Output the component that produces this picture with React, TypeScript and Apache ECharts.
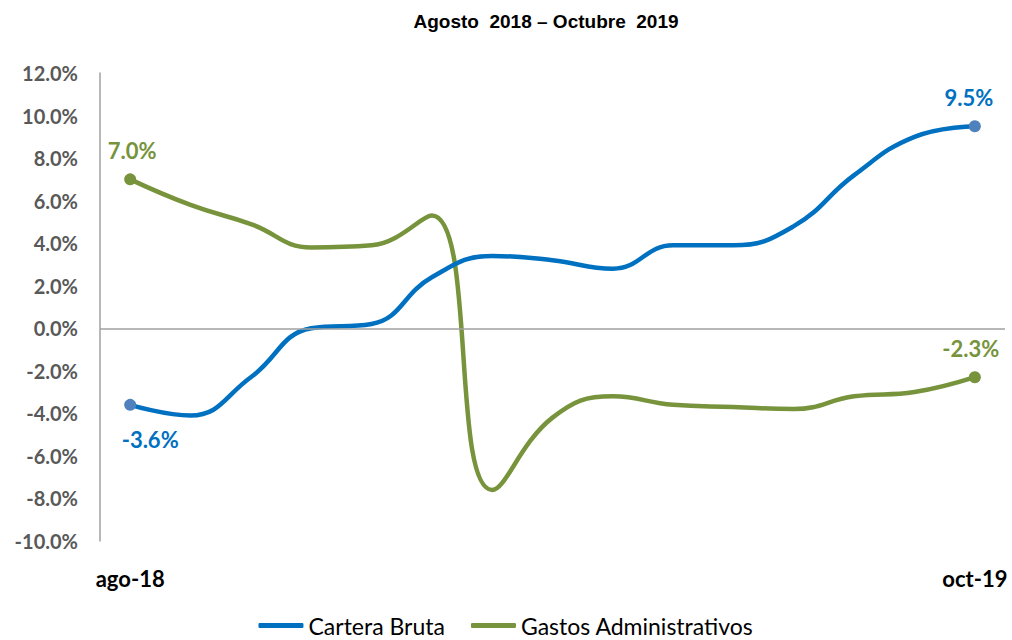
import React, { useEffect, useRef } from "react";
import * as echarts from "echarts";

const titleText = "Agosto  2018 – Octubre  2019";
const months = [
  "ago-18", "sep-18", "oct-18", "nov-18", "dic-18", "ene-19", "feb-19", "mar-19",
  "abr-19", "may-19", "jun-19", "jul-19", "ago-19", "sep-19", "oct-19",
];
const carteraBruta = [-3.6, -4.1, -2.3, 0.0, 0.2, 2.4, 3.4, 3.2, 2.8, 3.9, 3.9, 4.8, 7.2, 9.0, 9.5];
const gastosAdministrativos = [7.0, 5.8, 4.9, 3.8, 3.9, 5.3, -7.6, -4.2, -3.2, -3.6, -3.7, -3.8, -3.2, -3.0, -2.3];
const yTicks = { min: -10, max: 12, step: 2 };

const BLUE = "#0070C0";
const BLUE_MARK = "#4F81BD";
const GREEN = "#77933C";
const FONT = "Lato, 'Open Sans', sans-serif";

function buildData(values: number[], markColor: string, labelColor: string, firstPos: string, lastPos: string, firstOffset: number[], lastOffset: number[]) {
  const last = values.length - 1;
  return values.map((v, i) => {
    if (i === 0 || i === last) {
      return {
        value: v,
        symbol: "circle",
        symbolSize: 12,
        itemStyle: { color: markColor },
        label: {
          show: true,
          position: i === 0 ? firstPos : lastPos,
          offset: i === 0 ? firstOffset : lastOffset,
          distance: 12,
          formatter: (p: any) => p.value.toFixed(1) + "%",
          color: labelColor,
          fontFamily: FONT,
          fontWeight: "bold",
          fontSize: 22,
        },
      };
    }
    return { value: v, symbol: "none" };
  });
}

export default function App() {
  const ref = useRef<HTMLDivElement>(null);
  useEffect(() => {
    if (!ref.current) return;
    const chart = echarts.init(ref.current, null, { renderer: "svg" });
    chart.setOption({
      animation: false,
      backgroundColor: "#ffffff",
      title: {
        text: titleText,
        left: 541,
        textAlign: "center",
        top: 7,
        textStyle: {
          fontFamily: "'Liberation Sans', Arial, sans-serif",
          fontWeight: "bold",
          fontSize: 19,
          color: "#000000",
        },
      },
      legend: {
        bottom: -2,
        left: "center",
        itemWidth: 45,
        itemHeight: 5,
        itemGap: 26,
        icon: "roundRect",
        textStyle: { fontFamily: FONT, fontSize: 23, fontWeight: "normal", color: "#000" },
        data: ["Cartera Bruta", "Gastos Administrativos"],
      },
      grid: { left: 100, right: 7, top: 73, bottom: 99 },
      xAxis: {
        type: "category",
        data: months,
        boundaryGap: true,
        axisLine: { show: false, onZero: false },
        axisTick: { show: false },
        splitLine: { show: false },
        axisLabel: {
          interval: (i: number) => i === 0 || i === months.length - 1,
          margin: 26,
          fontFamily: FONT,
          fontWeight: "bold",
          fontSize: 22,
          color: "#000",
        },
      },
      yAxis: {
        type: "value",
        min: yTicks.min,
        max: yTicks.max,
        interval: yTicks.step,
        axisLine: { show: true, lineStyle: { color: "#a0a0a0", width: 1.5 } },
        axisTick: { show: false },
        splitLine: { show: false },
        axisLabel: {
          formatter: (v: number) => v.toFixed(1) + "%",
          margin: 22,
          fontFamily: FONT,
          fontWeight: "bold",
          fontSize: 20,
          color: "#595959",
        },
      },
      series: [
        {
          name: "Cartera Bruta",
          type: "line",
          smooth: 0.45,
          color: BLUE,
          lineStyle: { width: 4.5, color: BLUE },
          data: buildData(carteraBruta, BLUE_MARK, BLUE, "bottom", "top", [20, 6], [-6, 0]),
          z: 3,
          markLine: {
            silent: true,
            symbol: "none",
            label: { show: false },
            lineStyle: { color: "#a0a0a0", width: 1.5, type: "solid" },
            data: [{ yAxis: 0 }],
          },
        },
        {
          name: "Gastos Administrativos",
          type: "line",
          smooth: 0.45,
          color: GREEN,
          lineStyle: { width: 4.5, color: GREEN },
          data: buildData(gastosAdministrativos, GREEN, GREEN, "top", "top", [2, 0], [-4, 0]),
          z: 2,
        },
      ],
    });
    return () => chart.dispose();
  }, []);
  return <div ref={ref} style={{ width: 1012, height: 640, position: "absolute", left: 0, top: 0 }} />;
}
